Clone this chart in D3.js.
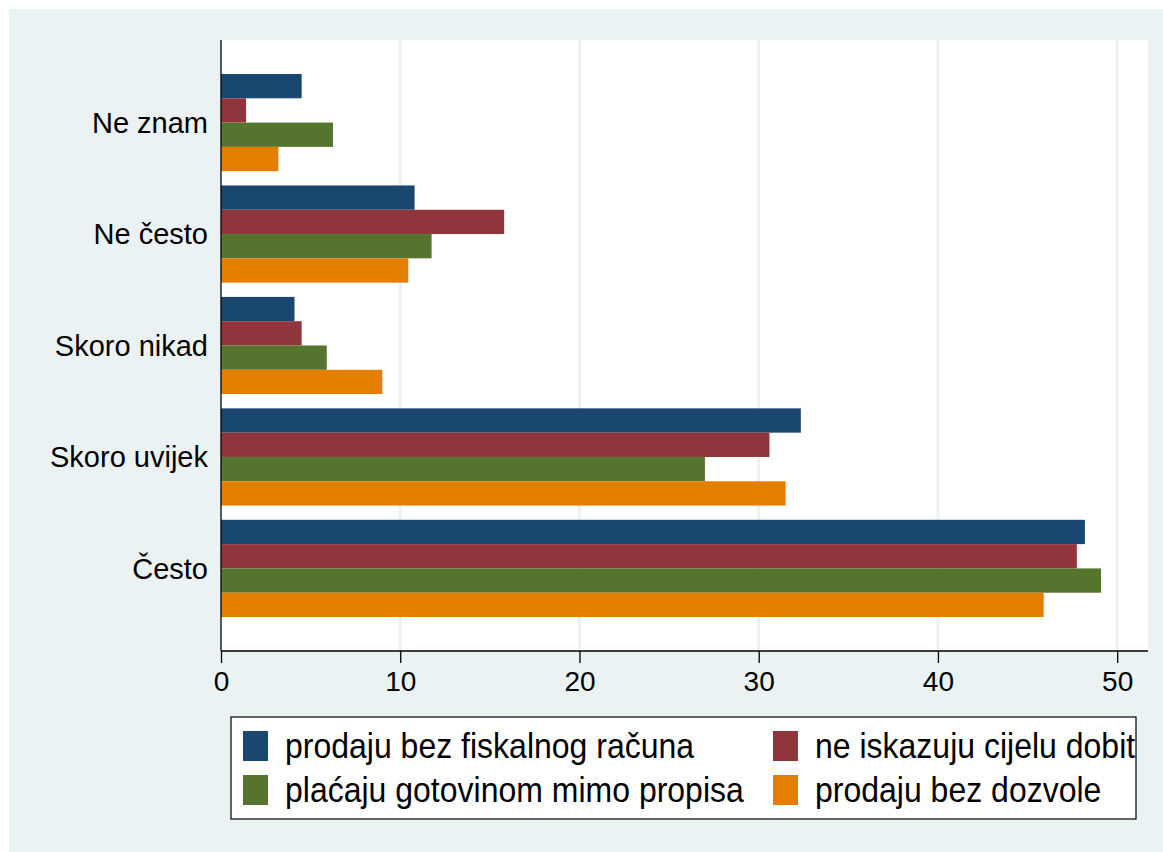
<!DOCTYPE html>
<html>
<head>
<meta charset="utf-8">
<script src="https://cdn.jsdelivr.net/npm/d3@7"></script>
<style>
  body { margin: 0; background: #fff; }
  text { font-family: "Liberation Sans", Arial, sans-serif; }
</style>
</head>
<body>
<div id="chart"></div>
<script>
// categories top to bottom
const categories = ['Ne znam', 'Ne često', 'Skoro nikad', 'Skoro uvijek', 'Često'];
const seriesNames = ['prodaju bez fiskalnog računa', 'ne iskazuju cijelu dobit', 'plaćaju gotovinom mimo propisa', 'prodaju bez dozvole'];
const fiskalni = [4.5, 10.8, 4.1, 32.35, 48.2];
const dobit = [1.4, 15.8, 4.5, 30.6, 47.75];
const gotovina = [6.25, 11.75, 5.9, 27.0, 49.1];
const dozvola = [3.2, 10.45, 9.0, 31.5, 45.9];
const xTicks = [0, 10, 20, 30, 40, 50];
const colors = ['#1A476F', '#90353B', '#55752F', '#E37E00'];

const W = 1163, H = 852;
const L = 221, R = 1148, T = 40, B = 651;
const seriesVals = [fiskalni, dobit, gotovina, dozvola];

const svg = d3.select('#chart').append('svg').attr('width', W).attr('height', H);
svg.append('rect').attr('x', 9).attr('y', 9).attr('width', W - 9).attr('height', H - 9).attr('fill', '#EAF2F3');
svg.append('rect').attr('x', L).attr('y', T).attr('width', R - L).attr('height', B - T).attr('fill', '#fff');

const x = d3.scaleLinear().domain([0, 51.72]).range([L, R]);
const y = d3.scaleBand().domain(categories).range([T, B]).paddingInner(0.128).paddingOuter(0.305);
const ys = d3.scaleBand().domain(d3.range(seriesNames.length)).range([0, y.bandwidth()]);

// gridlines
svg.append('g').selectAll('line')
  .data(xTicks.filter(d => d > 0))
  .enter().append('line')
  .attr('x1', d => x(d)).attr('x2', d => x(d))
  .attr('y1', T).attr('y2', B)
  .attr('stroke', '#EAF2F3').attr('stroke-width', 3);

// bars
const rows = [];
categories.forEach((c, i) => seriesVals.forEach((s, j) => rows.push({ cat: c, s: j, v: s[i] })));
svg.append('g').selectAll('rect')
  .data(rows)
  .enter().append('rect')
  .attr('x', x(0))
  .attr('y', d => y(d.cat) + ys(d.s))
  .attr('width', d => x(d.v) - x(0))
  .attr('height', ys.bandwidth())
  .attr('fill', d => colors[d.s]);

// x axis
const xAxis = svg.append('g').attr('transform', `translate(0,${B})`)
  .call(d3.axisBottom(x).tickValues(xTicks).tickSize(12).tickPadding(8).tickFormat(d3.format('d')));
xAxis.select('.domain').attr('d', `M${L},0H${R}`).attr('stroke', '#000').attr('stroke-width', 1.3);
xAxis.selectAll('.tick line').attr('stroke', '#000').attr('stroke-width', 1.3);
xAxis.selectAll('.tick text').attr('font-size', 28).attr('fill', '#000').attr('font-family', '"Liberation Sans", Arial, sans-serif');

// y axis line and labels
svg.append('line').attr('x1', L).attr('x2', L).attr('y1', T).attr('y2', B).attr('stroke', '#000').attr('stroke-width', 1.3);
svg.append('g').selectAll('text')
  .data(categories)
  .enter().append('text')
  .attr('x', 208)
  .attr('y', d => y(d) + y.bandwidth() / 2)
  .attr('dy', '0.36em')
  .attr('text-anchor', 'end')
  .attr('font-size', 29)
  .text(d => d);

// legend
const lg = svg.append('g');
lg.append('rect').attr('x', 231).attr('y', 717).attr('width', 905).attr('height', 102)
  .attr('fill', '#fff').attr('stroke', '#000').attr('stroke-width', 1.2);
const legPos = [[243, 731], [773, 731], [243, 775], [773, 775]];
seriesNames.forEach((n, i) => {
  const [lx, ly] = legPos[i];
  lg.append('rect').attr('x', lx).attr('y', ly).attr('width', 25).attr('height', 30).attr('fill', colors[i]);
  lg.append('text')
    .attr('transform', `translate(${lx + 42},${ly + 27}) scale(1,1.12)`)
    .attr('font-size', 32)
    .text(n);
});
</script>
</body>
</html>
